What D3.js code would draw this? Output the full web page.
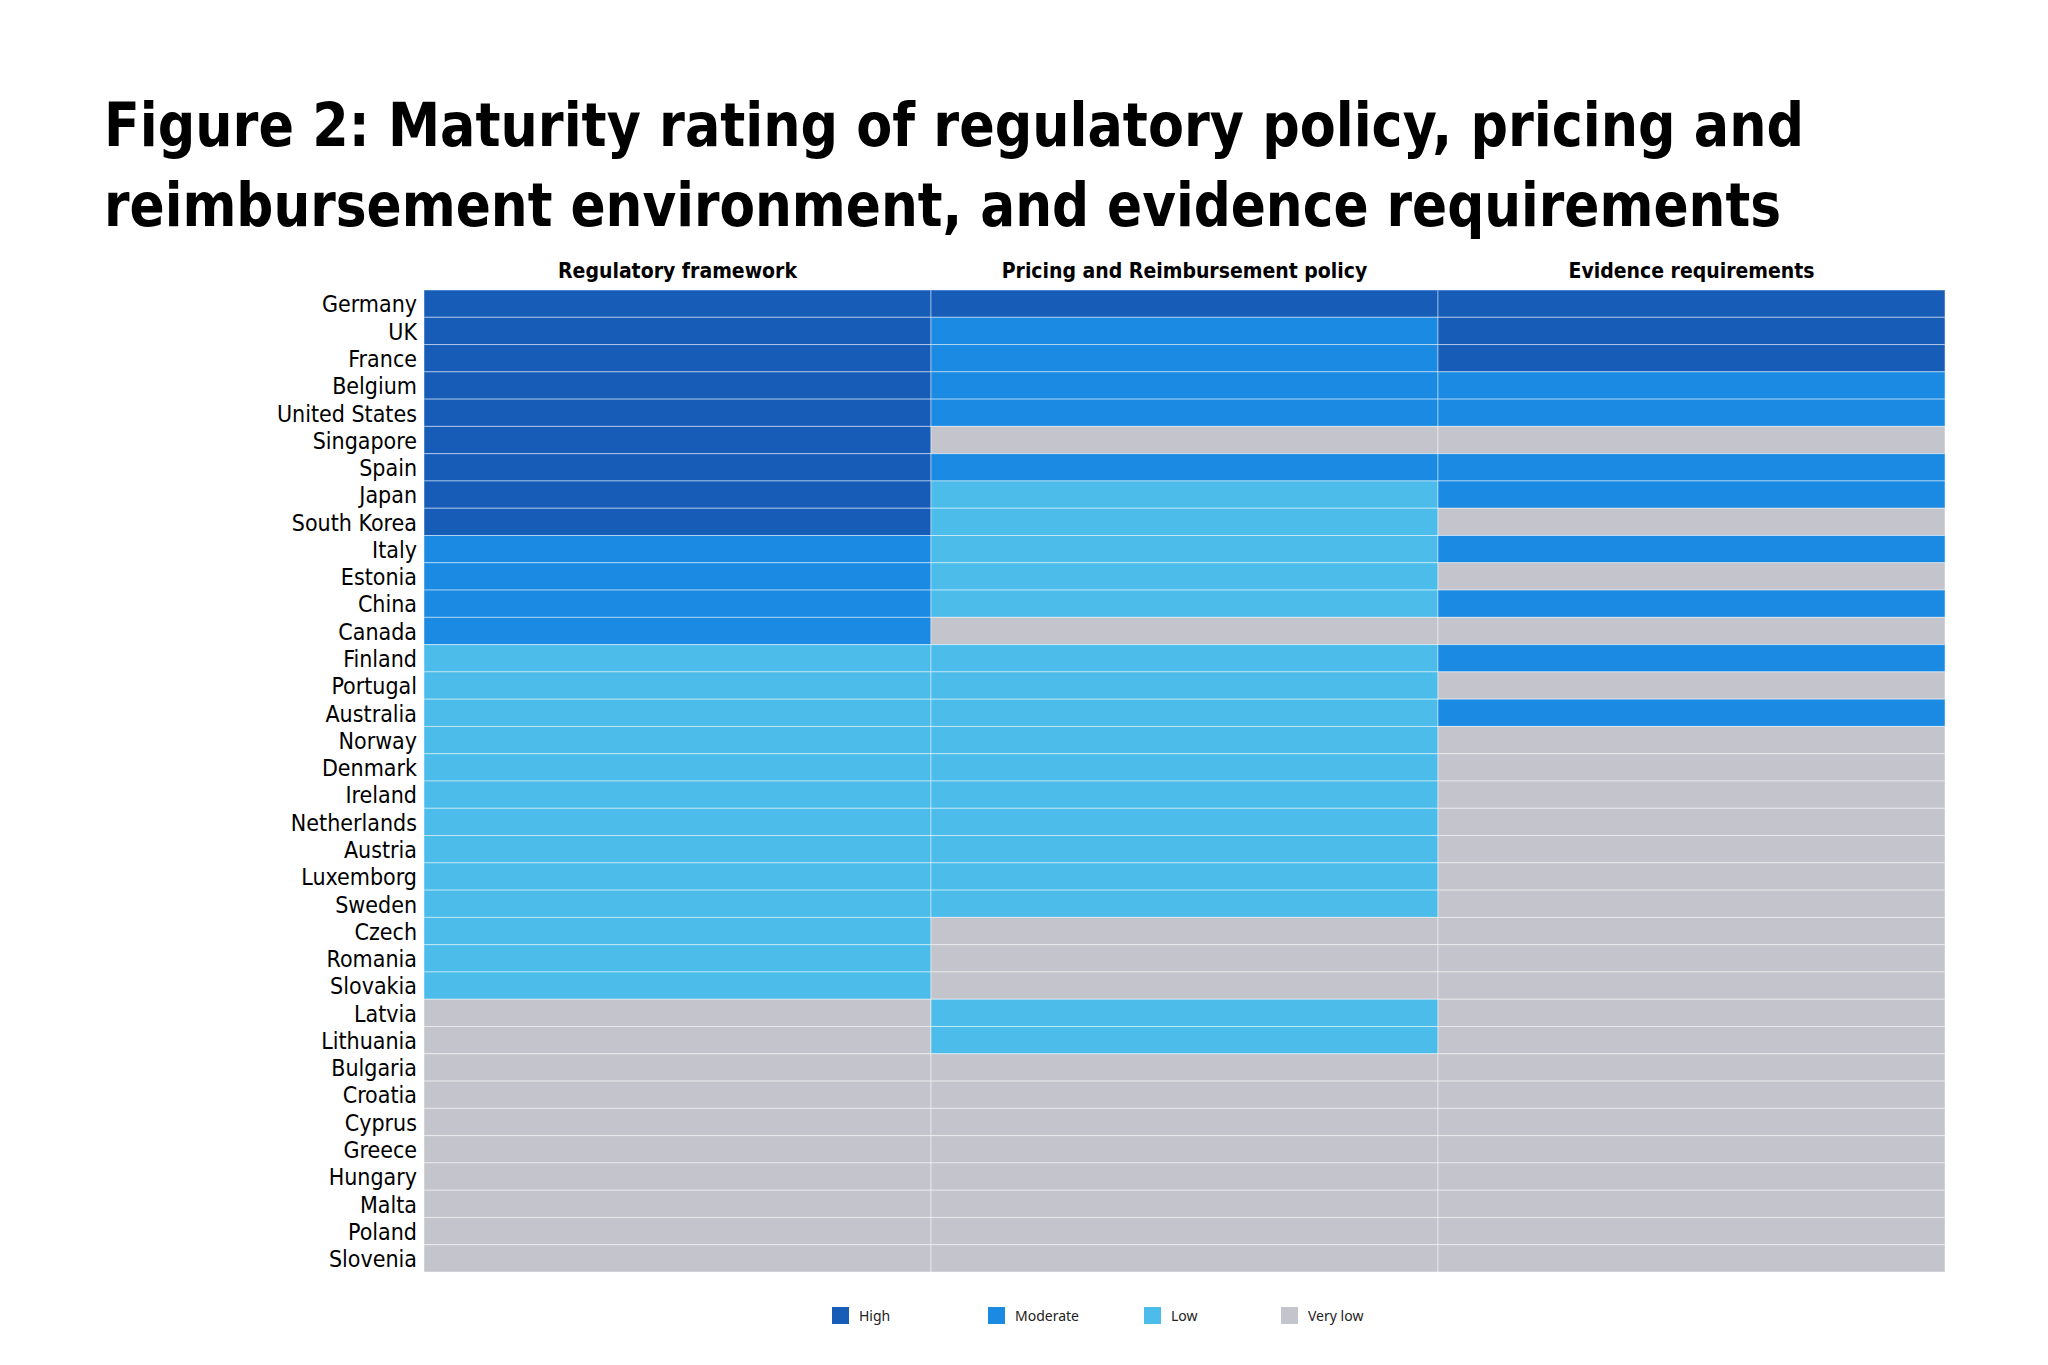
<!DOCTYPE html>
<html>
<head>
<meta charset="utf-8">
<script src="https://cdn.jsdelivr.net/npm/d3@7"></script>
<style>
  body { margin: 0; background: #fff; }
  text { font-family: "DejaVu Sans Condensed", "DejaVu Sans", sans-serif; font-stretch: condensed; }
</style>
</head>
<body>
<div id="chart"></div>
<script>
// data
const countries = ["Germany", "UK", "France", "Belgium", "United States", "Singapore", "Spain",
  "Japan", "South Korea", "Italy", "Estonia", "China", "Canada", "Finland", "Portugal",
  "Australia", "Norway", "Denmark", "Ireland", "Netherlands", "Austria", "Luxemborg", "Sweden",
  "Czech", "Romania", "Slovakia", "Latvia", "Lithuania", "Bulgaria", "Croatia", "Cyprus",
  "Greece", "Hungary", "Malta", "Poland", "Slovenia"];

const columns = ["Regulatory framework", "Pricing and Reimbursement policy", "Evidence requirements"];

const levels = ["High", "Moderate", "Low", "Very low"];

// H = High, M = Moderate, L = Low, V = Very low (one letter per country, same order)
const regulatory = ["H","H","H","H","H","H","H","H","H","M","M","M","M","L","L","L","L","L","L",
  "L","L","L","L","L","L","L","V","V","V","V","V","V","V","V","V","V"];
const pricing = ["H","M","M","M","M","V","M","L","L","L","L","L","V","L","L","L","L","L","L",
  "L","L","L","L","V","V","V","L","L","V","V","V","V","V","V","V","V"];
const evidence = ["H","H","H","M","M","V","M","M","V","M","V","M","V","M","V","M","V","V","V",
  "V","V","V","V","V","V","V","V","V","V","V","V","V","V","V","V","V"];

const codeToLevel = { H: "High", M: "Moderate", L: "Low", V: "Very low" };

const width = 2048, height = 1365;
const margin = { top: 290, right: 103, bottom: 93, left: 424 };

const svg = d3.select("#chart")
  .append("svg")
  .attr("width", width)
  .attr("height", height)
  .attr("viewBox", [0, 0, width, height]);

// title
const title = svg.append("g").attr("font-weight", "bold").attr("font-size", 60).attr("fill", "#000");
title.append("text").attr("x", 104).attr("y", 146)
  .attr("textLength", 1700).attr("lengthAdjust", "spacingAndGlyphs")
  .text("Figure 2: Maturity rating of regulatory policy, pricing and");
title.append("text").attr("x", 104).attr("y", 226)
  .attr("textLength", 1677).attr("lengthAdjust", "spacingAndGlyphs")
  .text("reimbursement environment, and evidence requirements");

// scales
const x = d3.scaleBand()
  .domain(columns)
  .range([margin.left, width - margin.right])
  .padding(0);

const y = d3.scaleBand()
  .domain(countries)
  .range([margin.top, height - margin.bottom])
  .padding(0);

const color = d3.scaleOrdinal()
  .domain(levels)
  .range(["#175db8", "#1a8ae2", "#4cbdea", "#c4c4cc"]);

// flatten into cells
const series = [regulatory, pricing, evidence];
const cells = [];
columns.forEach((col, i) => {
  countries.forEach((c, j) => {
    cells.push({ column: col, country: c, level: codeToLevel[series[i][j]] });
  });
});

svg.append("g")
  .selectAll("rect")
  .data(cells)
  .enter()
  .append("rect")
    .attr("x", d => x(d.column))
    .attr("y", d => y(d.country))
    .attr("width", x.bandwidth())
    .attr("height", y.bandwidth())
    .attr("fill", d => color(d.level))
    .attr("stroke", "rgba(255,255,255,0.45)")
    .attr("stroke-width", 1);

// row labels
svg.append("g")
  .attr("transform", `translate(${margin.left - 4},0)`)
  .call(d3.axisLeft(y).tickSize(0).tickPadding(3))
  .call(g => g.select(".domain").remove())
  .selectAll("text")
    .attr("font-family", "'DejaVu Sans Condensed', 'DejaVu Sans', sans-serif")
    .attr("font-size", 23)
    .attr("fill", "#000")
    .attr("dy", "0.38em");

// column headers
svg.append("g")
  .attr("transform", `translate(0,${margin.top - 12})`)
  .call(d3.axisTop(x).tickSize(0).tickPadding(0))
  .call(g => g.select(".domain").remove())
  .selectAll("text")
    .attr("font-family", "'DejaVu Sans Condensed', 'DejaVu Sans', sans-serif")
    .attr("font-size", 21)
    .attr("font-weight", "bold")
    .attr("fill", "#000");

// legend
const legendX = [832, 988, 1144, 1281];
const legend = svg.append("g")
  .selectAll("g")
  .data(levels)
  .enter()
  .append("g")
    .attr("transform", (d, i) => `translate(${legendX[i]},1307)`);

legend.append("rect")
  .attr("width", 17)
  .attr("height", 17)
  .attr("fill", d => color(d));

legend.append("text")
  .attr("x", 27)
  .attr("y", 14)
  .style("font-family", "'Noto Sans', sans-serif")
  .style("font-stretch", "normal")
  .attr("font-size", 14)
  .attr("fill", "#222")
  .text(d => d);
</script>
</body>
</html>
